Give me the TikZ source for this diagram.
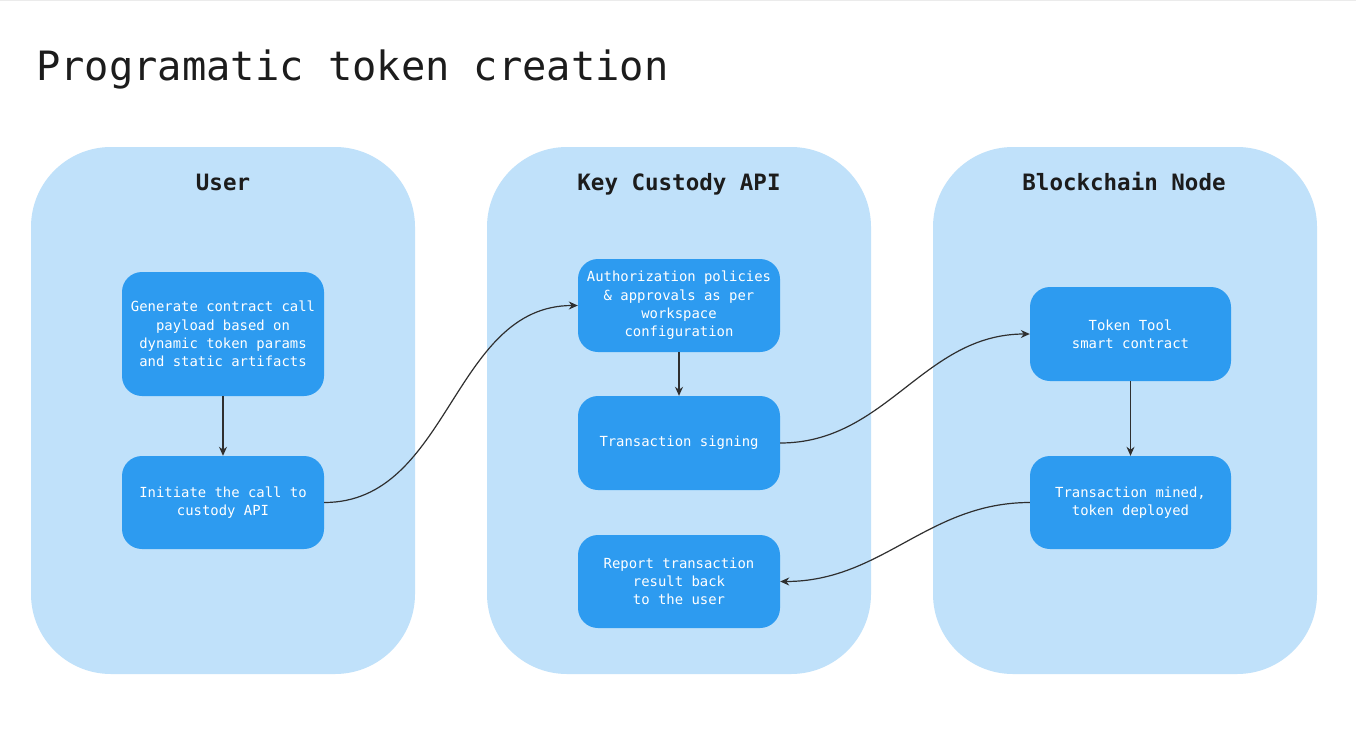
\documentclass[tikz,border=0pt]{standalone}
\usepackage{fontspec}
\setmonofont{DejaVu Sans Mono}
\usetikzlibrary{arrows.meta}
\definecolor{lane}{HTML}{C0E1FA}
\definecolor{boxblue}{HTML}{2D9BF0}
\definecolor{ink}{HTML}{1C1C1C}
\definecolor{wire}{HTML}{2F2F2F}
\tikzset{
  lanebox/.style={fill=lane, draw=none, rounded corners=80pt},
  stepbox/.style={rectangle, rounded corners=20pt, fill=boxblue, draw=none,
    minimum width=202pt, minimum height=94pt, inner sep=0pt, text=white,
    align=center, font=\ttfamily\fontsize{13.9}{18.3}\selectfont},
  lanetitle/.style={text=ink, font=\ttfamily\bfseries\fontsize{22.5}{27}\selectfont, anchor=base, inner sep=0pt},
  arr/.style={draw=wire, line width=1.2pt, -{Stealth[length=9pt,width=8pt]}},
}
\begin{document}
\begin{tikzpicture}[x=1pt,y=-1pt]
\useasboundingbox (0,0) rectangle (1356,736);
\fill[white] (0,0) rectangle (1356,736);
\draw[black!8, line width=0.8pt] (0,0.5) -- (1356,0.5);

\node[anchor=base west, inner sep=0pt, text=ink, font=\ttfamily\fontsize{40.4}{48}\selectfont] (title) at (36,80) {Programatic token creation};

% lanes
\path[lanebox] (31,147) rectangle (415,674);
\path[lanebox] (487,147) rectangle (871,674);
\path[lanebox] (933,147) rectangle (1317,674);

\node[lanetitle] (huser) at (223,190) {User};
\node[lanetitle] (hkey) at (679,190) {Key Custody API};
\node[lanetitle] (hchain) at (1124,190) {Blockchain Node};

% steps
\node[stepbox, minimum height=124pt] (gen) at (223,334) {Generate contract call\\payload based on\\dynamic token params\\and static artifacts};
\node[stepbox, minimum height=93pt] (init) at (223,502.5) {Initiate the call to\\custody API};
\node[stepbox, minimum height=93pt] (auth) at (679,305.5) {Authorization policies\\\& approvals as per\\workspace\\configuration};
\node[stepbox] (sign) at (679,443) {Transaction signing};
\node[stepbox, minimum height=93pt] (report) at (679,581.5) {Report transaction\\result back\\to the user};
\node[stepbox, minimum width=201pt] (tool) at (1130.5,334) {Token Tool\\smart contract};
\node[stepbox, minimum width=201pt, minimum height=93pt] (mined) at (1130.5,502.5) {Transaction mined,\\token deployed};

% connectors
\draw[arr] (gen.south) -- (init.north);
\draw[arr] (init.east) to[out=0,in=180] (auth.west);
\draw[arr] (auth.south) -- (sign.north);
\draw[arr] (sign.east) to[out=0,in=180] (tool.west);
\draw[arr] (tool.south) -- (mined.north);
\draw[arr] (mined.west) to[out=180,in=0] (report.east);
\end{tikzpicture}
\end{document}
